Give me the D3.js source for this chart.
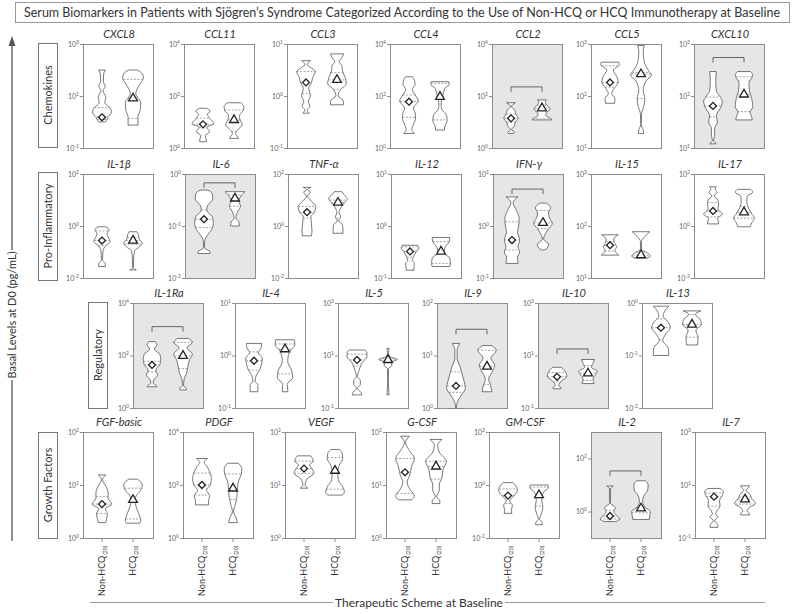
<!DOCTYPE html>
<html><head><meta charset="utf-8">
<script src="https://cdn.jsdelivr.net/npm/d3@7"></script>
<style>body{margin:0;background:#fff} text{font-family:Lato,"Open Sans",sans-serif}</style>
</head><body><svg id="c" width="800" height="614"></svg>
<script>
// ---------------- DATA (all levels are log10 of pg/mL) ----------------
const chartTitle = "Serum Biomarkers in Patients with Sjögren’s Syndrome Categorized According to the Use of Non-HCQ or HCQ Immunotherapy at Baseline";
const groups = ["Non-HCQ", "HCQ"];
const groupN = ["(20)", "(20)"];
const rowCategories = ["Chemokines", "Pro-Inflammatory", "Regulatory", "Growth Factors"];
const rowMarkers = [
  ["CXCL8", "CCL11", "CCL3", "CCL4", "CCL2", "CCL5", "CXCL10"],
  ["IL-1β", "IL-6", "TNF-α", "IL-12", "IFN-γ", "IL-15", "IL-17"],
  ["IL-1Ra", "IL-4", "IL-5", "IL-9", "IL-10", "IL-13"],
  ["FGF-basic", "PDGF", "VEGF", "G-CSF", "GM-CSF", "IL-2", "IL-7"]
];
// log10 axis limits
const axisLimits = {
  "CXCL8":[-1,3], "CCL11":[0,4], "CCL3":[-1,1], "CCL4":[0,4], "CCL2":[0,4], "CCL5":[1,3], "CXCL10":[1,3],
  "IL-1β":[-2,2], "IL-6":[-2,0], "TNF-α":[-2,2], "IL-12":[-1,1], "IFN-γ":[-1,1], "IL-15":[1,3], "IL-17":[-2,2],
  "IL-1Ra":[0,4], "IL-4":[-1,1], "IL-5":[-1,3], "IL-9":[0,2], "IL-10":[-1,3], "IL-13":[-2,0],
  "FGF-basic":[0,2], "PDGF":[0,4], "VEGF":[0,2], "G-CSF":[0,2], "GM-CSF":[-2,2], "IL-2":[-1,3], "IL-7":[-1,3]
};
// tick exponents (labels 10^e)
const tickExponents = {
  "CXCL8":[-1,1,3], "CCL11":[0,2,4], "CCL3":[-1,0,1], "CCL4":[0,2,4], "CCL2":[0,2,4], "CCL5":[1,2,3], "CXCL10":[1,2,3],
  "IL-1β":[-2,0,2], "IL-6":[-2,-1,0], "TNF-α":[-2,0,2], "IL-12":[-1,0,1], "IFN-γ":[-1,0,1], "IL-15":[1,2,3], "IL-17":[-2,0,2],
  "IL-1Ra":[0,2,4], "IL-4":[-1,0,1], "IL-5":[-1,1,3], "IL-9":[0,1,2], "IL-10":[-1,1,3], "IL-13":[-2,-1,0],
  "FGF-basic":[0,1,2], "PDGF":[0,2,4], "VEGF":[0,1,2], "G-CSF":[0,1,2], "GM-CSF":[-2,0,2], "IL-2":[0,2], "IL-7":[-1,1,3]
};
// significant differences (shaded panels) and the log10 level of their bracket
const significantMarkers = ["CCL2", "CXCL10", "IL-6", "IFN-γ", "IL-1Ra", "IL-9", "IL-10", "IL-2"];
const bracketLevels = {"CCL2":2.35, "CXCL10":2.74, "IL-6":-0.17, "IFN-γ":0.71, "IL-1Ra":3.1, "IL-9":1.5, "IL-10":1.25, "IL-2":1.53};

// violins: median, quartiles, outline knots [log10 level, relative density]
const nonHCQ = {
  "CXCL8": {med:0.18, q1:0.1, q3:0.55, shape:[[2.0,0.3],[1.85,0.15],[1.55,0.12],[1.38,0.3],[1.2,0.1],[0.95,0.35],[0.75,0.25],[0.5,0.8],[0.35,0.85],[0.2,0.55],[0.05,0.4],[0.0,0.3]]},
  "CCL11": {med:0.91, q1:0.78, q3:1.15, shape:[[1.53,0.3],[1.42,0.65],[1.3,0.4],[1.1,0.7],[0.93,1.0],[0.8,0.35],[0.62,0.6],[0.48,0.2],[0.3,0.3],[0.24,0.3]]},
  "CCL3":  {med:0.26, q1:0.05, q3:0.47, shape:[[0.68,0.4],[0.6,0.1],[0.55,0.4],[0.47,0.85],[0.35,0.6],[0.26,0.5],[0.15,0.25],[0.0,0.4],[-0.1,0.2],[-0.2,0.35],[-0.27,0.1],[-0.33,0.3]]},
  "CCL4":  {med:1.78, q1:1.18, q3:2.04, shape:[[2.74,0.3],[2.6,0.5],[2.45,0.55],[2.25,0.3],[2.05,0.55],[1.8,0.85],[1.55,0.4],[1.35,0.55],[1.15,0.6],[0.9,0.4],[0.7,0.25],[0.56,0.5]]},
  "CCL2":  {med:1.14, q1:1.0, q3:1.3, shape:[[1.74,0.4],[1.6,0.05],[1.45,0.35],[1.3,0.45],[1.14,0.65],[1.0,0.4],[0.85,0.3],[0.7,0.05],[0.6,0.3],[0.56,0.25]]},
  "CCL5":  {med:2.26, q1:2.17, q3:2.58, shape:[[2.65,0.8],[2.6,0.85],[2.5,0.3],[2.38,0.6],[2.27,0.75],[2.15,0.4],[2.05,0.15],[1.95,0.45],[1.86,0.4]]},
  "CXCL10":{med:1.81, q1:1.6, q3:1.98, shape:[[2.47,0.3],[2.3,0.25],[2.1,0.3],[2.0,0.6],[1.9,0.85],[1.8,0.75],[1.62,0.3],[1.5,0.4],[1.38,0.15],[1.25,0.15],[1.15,0.05],[1.08,0.3]]},
  "IL-1β": {med:-0.56, q1:-0.75, q3:-0.19, shape:[[-0.03,0.35],[-0.15,0.65],[-0.3,0.45],[-0.45,0.6],[-0.6,0.75],[-0.75,0.35],[-0.95,0.1],[-1.3,0.05],[-1.45,0.3],[-1.56,0.3]]},
  "IL-6":  {med:-0.87, q1:-1.03, q3:-0.69, shape:[[-0.31,0.35],[-0.38,0.75],[-0.48,0.8],[-0.6,0.35],[-0.7,0.25],[-0.82,0.75],[-0.95,0.85],[-1.05,0.75],[-1.15,0.4],[-1.3,0.05],[-1.42,0.05],[-1.5,0.55],[-1.53,0.55]]},
  "TNF-α": {med:0.53, q1:0.3, q3:0.75, shape:[[1.49,0.35],[1.4,0.05],[1.3,0.3],[1.15,0.05],[0.95,0.4],[0.75,0.8],[0.55,0.7],[0.35,0.35],[0.1,0.4],[-0.2,0.45],[-0.38,0.4]]},
  "IL-12": {med:-0.49, q1:-0.6, q3:-0.4, shape:[[-0.37,0.7],[-0.42,0.8],[-0.5,0.55],[-0.6,0.3],[-0.66,0.2],[-0.72,0.4],[-0.8,0.35],[-0.85,0.35]]},
  "IFN-γ": {med:-0.27, q1:-0.46, q3:0.08, shape:[[0.56,0.55],[0.45,0.1],[0.3,0.4],[0.15,0.65],[0.0,0.6],[-0.12,0.5],[-0.27,0.7],[-0.4,0.55],[-0.5,0.7],[-0.6,0.5],[-0.72,0.55]]},
  "IL-15": {med:1.63, q1:1.52, q3:1.7, shape:[[1.83,0.75],[1.75,0.35],[1.68,0.4],[1.6,0.6],[1.53,0.45],[1.44,0.8]]},
  "IL-17": {med:0.58, q1:0.35, q3:0.9, shape:[[1.51,0.3],[1.4,0.2],[1.3,0.35],[1.15,0.1],[1.0,0.45],[0.85,0.5],[0.65,0.45],[0.45,0.85],[0.3,0.4],[0.15,0.5],[0.08,0.5]]},
  "IL-1Ra":{med:1.64, q1:1.38, q3:1.78, shape:[[2.53,0.3],[2.4,0.45],[2.25,0.2],[2.05,0.7],[1.85,0.8],[1.65,0.7],[1.45,0.35],[1.25,0.5],[1.1,0.2],[0.95,0.1],[0.85,0.4],[0.81,0.45]]},
  "IL-4":  {med:-0.1, q1:-0.28, q3:0.07, shape:[[0.23,0.7],[0.15,0.65],[0.05,0.4],[-0.05,0.75],[-0.15,0.7],[-0.28,0.5],[-0.38,0.2],[-0.5,0.1],[-0.55,0.35],[-0.69,0.35]]},
  "IL-5":  {med:0.83, q1:0.6, q3:1.05, shape:[[1.21,0.7],[1.12,0.9],[0.95,0.9],[0.75,0.5],[0.45,0.2],[0.2,0.05],[0.05,0.3],[-0.1,0.3],[-0.25,0.05],[-0.4,0.35],[-0.5,0.45]]},
  "IL-9":  {med:0.42, q1:0.3, q3:0.69, shape:[[1.23,0.35],[1.1,0.1],[0.95,0.1],[0.8,0.35],[0.65,0.55],[0.5,0.75],[0.38,0.85],[0.25,0.5],[0.15,0.2],[0.03,0.05],[0.0,0.05]]},
  "IL-10": {med:0.19, q1:0.0, q3:0.35, shape:[[0.55,0.4],[0.45,0.65],[0.35,0.8],[0.2,0.9],[0.05,0.45],[-0.15,0.15],[-0.22,0.35],[-0.27,0.35]]},
  "IL-13": {med:-0.47, q1:-0.7, q3:-0.3, shape:[[-0.06,0.7],[-0.15,0.35],[-0.25,0.2],[-0.35,0.6],[-0.47,0.85],[-0.6,0.4],[-0.72,0.15],[-0.85,0.65],[-0.95,0.7],[-1.0,0.7]]},
  "FGF-basic":{med:0.64, q1:0.46, q3:0.78, shape:[[1.19,0.35],[1.1,0.05],[0.98,0.35],[0.85,0.55],[0.75,0.55],[0.64,0.9],[0.55,0.3],[0.45,0.5],[0.35,0.4],[0.29,0.35]]},
  "PDGF":  {med:2.0, q1:1.62, q3:2.45, shape:[[3.0,0.5],[2.85,0.2],[2.7,0.45],[2.5,0.7],[2.25,0.85],[2.0,0.75],[1.8,0.4],[1.6,0.7],[1.4,0.6],[1.25,0.6]]},
  "VEGF":  {med:1.31, q1:1.22, q3:1.45, shape:[[1.55,0.6],[1.45,0.85],[1.38,0.5],[1.3,0.75],[1.22,0.9],[1.12,0.3],[1.0,0.1],[0.94,0.35]]},
  "G-CSF": {med:1.24, q1:0.84, q3:1.5, shape:[[1.92,0.4],[1.8,0.05],[1.65,0.4],[1.5,0.85],[1.35,0.6],[1.2,0.45],[1.05,0.2],[0.9,0.5],[0.8,0.85],[0.72,0.6]]},
  "GM-CSF":{med:-0.4, q1:-0.7, q3:-0.15, shape:[[0.09,0.45],[-0.05,0.75],[-0.2,0.85],[-0.4,0.55],[-0.6,0.15],[-0.78,0.4],[-0.95,0.3],[-1.07,0.35]]},
  "IL-2":  {med:-0.17, q1:-0.28, q3:0.05, shape:[[0.96,0.3],[0.85,0.05],[0.3,0.05],[0.15,0.5],[0.0,0.35],[-0.15,0.6],[-0.28,0.9],[-0.38,0.55]]},
  "IL-7":  {med:0.56, q1:0.2, q3:0.7, shape:[[0.87,0.55],[0.75,0.85],[0.6,0.75],[0.4,0.5],[0.2,0.55],[0.05,0.3],[-0.1,0.15],[-0.2,0.35],[-0.35,0.05],[-0.5,0.35],[-0.6,0.35]]}
};
const HCQ = {
  "CXCL8": {med:0.91, q1:0.14, q3:1.64, shape:[[2.0,0.4],[1.85,0.85],[1.7,0.95],[1.5,0.7],[1.1,0.25],[0.95,0.4],[0.75,0.7],[0.45,0.65],[0.2,0.45],[0.0,0.45],[-0.12,0.45]]},
  "CCL11": {med:1.08, q1:0.63, q3:1.46, shape:[[1.74,0.6],[1.6,0.9],[1.45,0.85],[1.25,0.5],[1.08,0.55],[0.9,0.75],[0.7,0.35],[0.55,0.15],[0.42,0.35],[0.37,0.4]]},
  "CCL3":  {med:0.31, q1:0.13, q3:0.45, shape:[[0.81,0.6],[0.72,0.4],[0.66,0.2],[0.58,0.45],[0.48,0.5],[0.35,0.75],[0.24,0.85],[0.12,0.3],[0.0,0.1],[-0.08,0.55],[-0.17,0.6]]},
  "CCL4":  {med:1.97, q1:1.08, q3:2.49, shape:[[2.55,0.8],[2.45,0.85],[2.3,0.45],[2.1,0.3],[1.95,0.2],[1.7,0.1],[1.5,0.15],[1.25,0.6],[1.05,0.65],[0.85,0.45],[0.69,0.4]]},
  "CCL2":  {med:1.53, q1:1.12, q3:1.65, shape:[[1.85,0.4],[1.75,0.3],[1.62,0.5],[1.5,0.75],[1.38,0.45],[1.25,0.35],[1.12,0.85],[1.08,0.9]]},
  "CCL5":  {med:2.42, q1:1.95, q3:2.45, shape:[[2.97,0.3],[2.85,0.2],[2.65,0.3],[2.5,0.65],[2.4,0.95],[2.3,0.5],[2.1,0.2],[1.95,0.35],[1.8,0.25],[1.65,0.05],[1.45,0.02],[1.35,0.2],[1.28,0.25]]},
  "CXCL10":{med:2.03, q1:1.7, q3:2.37, shape:[[2.47,0.6],[2.4,0.8],[2.25,0.45],[2.1,0.5],[1.95,0.7],[1.8,0.8],[1.68,0.55],[1.6,0.7],[1.54,0.75]]},
  "IL-1β": {med:-0.56, q1:-0.7, q3:-0.45, shape:[[-0.22,0.35],[-0.35,0.5],[-0.5,0.55],[-0.65,0.85],[-0.8,0.6],[-0.95,0.15],[-1.3,0.05],[-1.6,0.04],[-1.69,0.3]]},
  "IL-6":  {med:-0.47, q1:-0.62, q3:-0.4, shape:[[-0.34,0.9],[-0.42,0.55],[-0.52,0.35],[-0.62,0.5],[-0.72,0.25],[-0.85,0.08],[-0.92,0.35],[-1.0,0.4]]},
  "TNF-α": {med:0.9, q1:0.3, q3:1.0, shape:[[1.32,0.35],[1.2,0.55],[1.05,0.85],[0.9,0.6],[0.7,0.25],[0.5,0.1],[0.35,0.25],[0.2,0.05],[0.05,0.4],[-0.15,0.45],[-0.28,0.45]]},
  "IL-12": {med:-0.49, q1:-0.72, q3:-0.3, shape:[[-0.22,0.8],[-0.3,0.75],[-0.42,0.35],[-0.52,0.3],[-0.62,0.8],[-0.72,0.85],[-0.78,0.8]]},
  "IFN-γ": {med:0.06, q1:-0.05, q3:0.3, shape:[[0.44,0.3],[0.35,0.7],[0.25,0.5],[0.15,0.6],[0.05,0.85],[-0.05,0.5],[-0.12,0.3],[-0.25,0.05],[-0.35,0.5],[-0.42,0.4],[-0.46,0.1]]},
  "IL-15": {med:1.44, q1:1.4, q3:1.5, shape:[[1.89,0.8],[1.8,0.35],[1.7,0.05],[1.55,0.05],[1.48,0.6],[1.42,0.85],[1.38,0.55]]},
  "IL-17": {med:0.53, q1:0.3, q3:0.75, shape:[[1.41,0.6],[1.3,0.8],[1.15,0.3],[0.95,0.25],[0.75,0.35],[0.5,0.65],[0.3,0.95],[0.12,0.7],[-0.03,0.55]]},
  "IL-1Ra":{med:1.99, q1:1.5, q3:2.5, shape:[[2.65,0.5],[2.5,0.85],[2.3,0.35],[2.05,0.85],[1.85,0.6],[1.6,0.45],[1.3,0.3],[1.1,0.1],[0.85,0.05],[0.75,0.3],[0.69,0.3]]},
  "IL-4":  {med:0.12, q1:-0.35, q3:0.22, shape:[[0.3,0.85],[0.2,0.9],[0.1,0.5],[0.0,0.3],[-0.12,0.25],[-0.28,0.6],[-0.42,0.7],[-0.55,0.2],[-0.65,0.25],[-0.69,0.25]]},
  "IL-5":  {med:0.83, q1:0.75, q3:0.9, shape:[[1.27,0.1],[1.1,0.05],[0.95,0.2],[0.85,0.85],[0.75,0.3],[0.62,0.35],[0.5,0.05],[0.0,0.03],[-0.5,0.1]]},
  "IL-9":  {med:0.79, q1:0.45, q3:1.1, shape:[[1.19,0.4],[1.1,0.85],[0.95,0.35],[0.82,0.7],[0.7,0.5],[0.55,0.15],[0.45,0.3],[0.31,0.45]]},
  "IL-10": {med:0.32, q1:0.05, q3:0.62, shape:[[0.85,0.6],[0.7,0.45],[0.55,0.3],[0.4,0.85],[0.28,0.7],[0.1,0.45],[-0.07,0.55]]},
  "IL-13": {med:-0.41, q1:-0.65, q3:-0.22, shape:[[-0.15,0.8],[-0.22,0.3],[-0.3,0.7],[-0.41,0.85],[-0.52,0.35],[-0.65,0.55],[-0.8,0.5]]},
  "FGF-basic":{med:0.72, q1:0.36, q3:0.94, shape:[[1.11,0.4],[1.0,0.85],[0.9,0.7],[0.78,0.25],[0.68,0.2],[0.55,0.35],[0.42,0.6],[0.33,0.7],[0.28,0.6]]},
  "PDGF":  {med:1.87, q1:1.45, q3:2.42, shape:[[2.82,0.5],[2.6,0.8],[2.4,0.75],[2.15,0.5],[1.85,0.4],[1.55,0.35],[1.25,0.2],[1.0,0.05],[0.75,0.3],[0.58,0.4]]},
  "VEGF":  {med:1.27, q1:0.92, q3:1.52, shape:[[1.67,0.4],[1.6,0.65],[1.5,0.7],[1.38,0.4],[1.25,0.25],[1.1,0.3],[0.95,0.75],[0.86,0.85],[0.81,0.65]]},
  "G-CSF": {med:1.35, q1:1.11, q3:1.45, shape:[[1.86,0.55],[1.75,0.15],[1.6,0.35],[1.45,0.95],[1.3,0.65],[1.15,0.55],[1.0,0.3],[0.9,0.3],[0.78,0.05],[0.7,0.35],[0.65,0.35]]},
  "GM-CSF":{med:-0.38, q1:-0.8, q3:-0.08, shape:[[0.0,0.8],[-0.1,0.85],[-0.25,0.45],[-0.4,0.3],[-0.6,0.25],[-0.85,0.35],[-1.1,0.2],[-1.3,0.05],[-1.42,0.3],[-1.5,0.3]]},
  "IL-2":  {med:0.12, q1:-0.05, q3:0.15, shape:[[1.16,0.4],[1.0,0.65],[0.8,0.6],[0.55,0.2],[0.35,0.15],[0.15,0.4],[0.0,0.85],[-0.15,0.8],[-0.3,0.75]]},
  "IL-7":  {med:0.46, q1:0.28, q3:0.55, shape:[[0.97,0.4],[0.9,0.3],[0.8,0.1],[0.65,0.45],[0.5,0.6],[0.3,0.95],[0.15,0.4],[0.0,0.2],[-0.08,0.4],[-0.13,0.4]]}
};

// ---------------- LAYOUT ----------------
const svg = d3.select("#c");
const rowTop = [44, 174, 303, 432], rowBottom = [148, 278, 408, 538];
const colLeft = [[83,184,287,390,492,591,694],[83,185,288,391,493,591,694],[133,235,338,437,538,642],[83,183,285,386,489,591,695]];
const boxW = 70, halfW = 11;
const ink = "#333";
const p10 = e => Math.pow(10, e);

// title
svg.append("rect").attr("x",15.5).attr("y",2.5).attr("width",774).attr("height",20).attr("fill","#fff").attr("stroke","#999");
svg.append("text").attr("x",402).attr("y",16.5).attr("text-anchor","middle").attr("font-size",12.5).attr("fill",ink)
  .attr("textLength",756).attr("lengthAdjust","spacingAndGlyphs").text(chartTitle);

// global y label
svg.append("line").attr("x1",12).attr("x2",12).attr("y1",44).attr("y2",250).attr("stroke","#555").attr("stroke-width",1.3);
svg.append("path").attr("d","M12,36 L8.5,46 L15.5,46 Z").attr("fill","#555");
svg.append("line").attr("x1",12).attr("x2",12).attr("y1",380).attr("y2",541).attr("stroke","#555").attr("stroke-width",1.3);
svg.append("text").attr("transform","translate(16,315) rotate(-90)").attr("text-anchor","middle").attr("font-size",11).attr("fill",ink)
  .text("Basal Levels at D0 (pg/mL)");

// category boxes
const catBoxes = [[38,43,104],[38,172,108],[88,302,106],[38,432,106]];
rowCategories.forEach((c,i) => {
  const [bx,by,bh] = catBoxes[i];
  svg.append("rect").attr("x",bx+0.5).attr("y",by+0.5).attr("width",19).attr("height",bh).attr("fill","#fff").attr("stroke","#777");
  svg.append("text").attr("transform",`translate(${bx+14},${by+bh/2}) rotate(-90)`).attr("text-anchor","middle")
    .attr("font-size",11).attr("fill",ink).text(c);
});

// bottom axis title
svg.append("line").attr("x1",90).attr("x2",333).attr("y1",602.5).attr("y2",602.5).attr("stroke","#999");
svg.append("line").attr("x1",505).attr("x2",765).attr("y1",602.5).attr("y2",602.5).attr("stroke","#999");
svg.append("text").attr("x",419).attr("y",607).attr("text-anchor","middle").attr("font-size",12).attr("fill",ink).text("Therapeutic Scheme at Baseline");

function densityAt(shape, e) {
  for (let i = 0; i < shape.length - 1; i++) {
    const [e0,d0] = shape[i], [e1,d1] = shape[i+1];
    if ((e <= e0 && e >= e1)) { const t = (e0 - e) / (e0 - e1 || 1); return d0 + (d1 - d0) * t; }
  }
  return 0.3;
}

rowMarkers.forEach((names, r) => {
  names.forEach((name, i) => {
    const left = colLeft[r][i], top = rowTop[r], bottom = rowBottom[r];
    const [lo, hi] = axisLimits[name];
    const y = d3.scaleLog().domain([p10(lo), p10(hi)]).range([bottom, top]);
    const x = d3.scalePoint().domain(groups).range([left + 19, left + 50]);
    const sig = significantMarkers.includes(name);
    const g = svg.append("g");
    g.append("rect").attr("x",left+0.5).attr("y",top+0.5).attr("width",boxW).attr("height",bottom-top)
      .attr("fill", sig ? "#e6e6e6" : "#fff").attr("stroke","#8c8c8c").attr("stroke-width",1);
    // y ticks
    tickExponents[name].forEach(e => {
      const yy = y(p10(e));
      g.append("line").attr("x1",left-3).attr("x2",left).attr("y1",yy+0.5).attr("y2",yy+0.5).attr("stroke","#8c8c8c");
      const t = g.append("text").attr("x",left-4).attr("y",yy+2.5).attr("text-anchor","end").attr("font-size",7).attr("fill","#666");
      t.append("tspan").text("10");
      t.append("tspan").attr("font-size",5).attr("dy",-3).text(String(e));
    });
    // title
    g.append("text").attr("x",left+36).attr("y",top-6).attr("text-anchor","middle").attr("font-size",11)
      .attr("font-style","italic").attr("fill",ink).text(name);
    // violins
    groups.forEach((grp, gi) => {
      const v = (gi === 0 ? nonHCQ : HCQ)[name];
      const cx = x(grp);
      const area = d3.area().curve(d3.curveMonotoneY)
        .y(d => y(p10(d[0]))).x0(d => cx - d[1]*halfW).x1(d => cx + d[1]*halfW);
      g.append("path").attr("d", area(v.shape)).attr("fill","#fff").attr("stroke","#555").attr("stroke-width",0.8);
      [v.q1, v.med, v.q3].forEach(e => {
        const w = densityAt(v.shape, e) * halfW;
        g.append("line").attr("x1",cx-w).attr("x2",cx+w).attr("y1",y(p10(e))).attr("y2",y(p10(e)))
          .attr("stroke","#8a8a8a").attr("stroke-width",0.8).attr("stroke-dasharray","2,1.5");
      });
      const sym = gi === 0 ? d3.symbol(d3.symbolSquare, 24) : d3.symbol(d3.symbolTriangle, 34);
      g.append("path").attr("d", sym()).attr("transform", `translate(${cx},${y(p10(v.med))}) rotate(${gi===0?45:0})`)
        .attr("fill","#fff").attr("stroke","#222").attr("stroke-width",1.3);
    });
    // bracket
    if (sig) {
      const by = y(p10(bracketLevels[name]));
      g.append("path").attr("d",`M${x(groups[0])},${by+5} V${by} H${x(groups[1])} V${by+5}`)
        .attr("fill","none").attr("stroke","#555").attr("stroke-width",0.9);
    }
    // x labels on the bottom row
    if (r === 3) {
      groups.forEach((grp, gi) => {
        const cx = x(grp);
        g.append("line").attr("x1",cx).attr("x2",cx).attr("y1",bottom).attr("y2",bottom+4).attr("stroke","#8c8c8c");
        const t = g.append("text").attr("transform",`translate(${cx+3},${bottom+8}) rotate(-90)`).attr("text-anchor","end")
          .attr("font-size",9).attr("fill",ink);
        t.append("tspan").text(grp);
        t.append("tspan").attr("font-size",5).attr("dy",1.5).text(" " + groupN[gi]);
      });
    }
  });
});
</script></body></html>
